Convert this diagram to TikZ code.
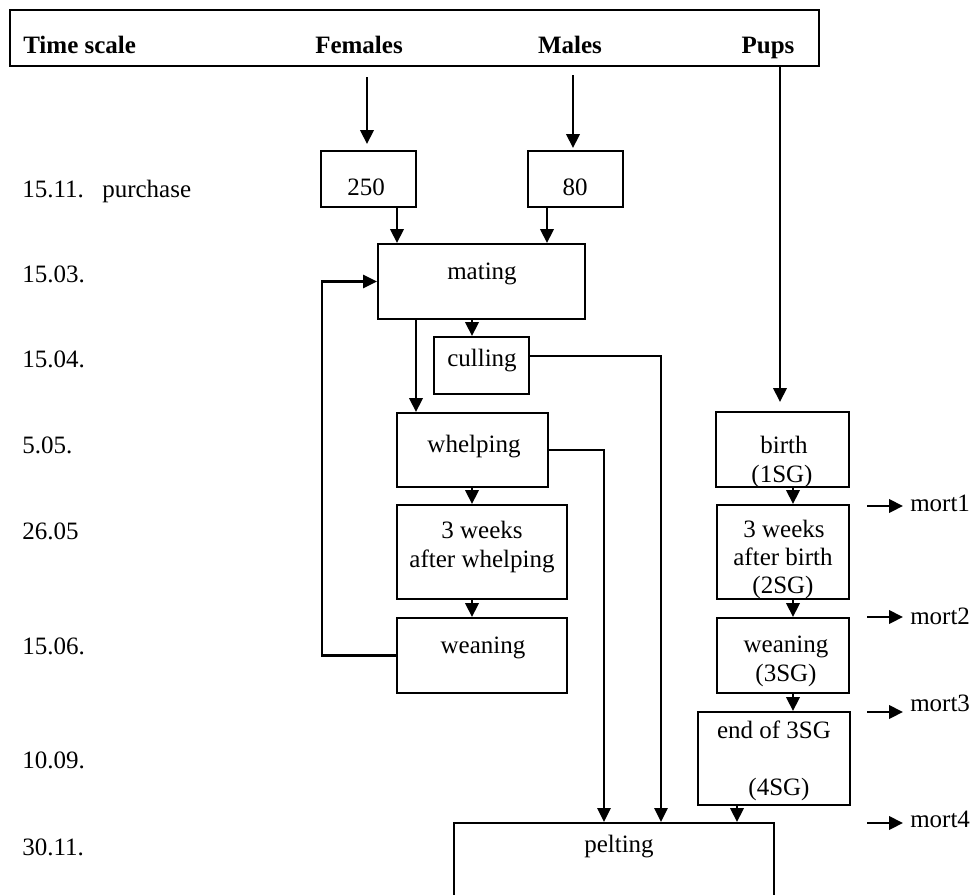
\documentclass[tikz,border=0pt]{standalone}
\usepackage{fontspec}
\setmainfont{Liberation Serif}
\usetikzlibrary{arrows.meta,calc,fit}
\begin{document}
\begin{tikzpicture}[x=0.75pt,y=-0.75pt,
  box/.style={draw,line width=1.5pt,inner sep=0pt,rectangle},
  txt/.style={inner sep=0pt,anchor=base,font=\fontsize{18.75}{22}\selectfont},
  ltxt/.style={txt,anchor=base west},
  hdr/.style={txt,font=\fontsize{18.75}{22}\selectfont\bfseries},
  arr/.style={line width=2.2pt,-{Triangle[length=10.5pt,width=10pt]}},
  thinarr/.style={line width=1.6pt,-{Triangle[length=10.5pt,width=10pt]}},
]
\useasboundingbox (0,0) rectangle (972,894);

% column / row helper coordinates
\coordinate (c367) at (367,0);
\coordinate (c573) at (573,0);
\coordinate (c780) at (780,0);
\coordinate (c397) at (397,0);
\coordinate (c547) at (547,0);
\coordinate (c472) at (472,0);
\coordinate (c416) at (416,0);
\coordinate (c793) at (793,0);
\coordinate (c737) at (737,0);
\coordinate (c322) at (322,0);
\coordinate (c661) at (661,0);
\coordinate (c604) at (604,0);
\coordinate (r356) at (0,356);

% boxes
\node[box,fit={(10,10) (819,66)}] (header) {};
\node[box,fit={(321,151) (416,207)}] (b250) {};
\node[box,fit={(528,151) (623,207)}] (b80) {};
\node[box,fit={(378,244) (585,319)}] (mating) {};
\node[box,fit={(434,337) (529,394)}] (culling) {};
\node[box,fit={(397,413) (548,487)}] (whelping) {};
\node[box,fit={(397,505) (567,599)}] (weeksF) {};
\node[box,fit={(397,618) (567,693)}] (weanF) {};
\node[box,fit={(716,412) (849,487)}] (birth) {};
\node[box,fit={(717,505) (849,599)}] (weeksP) {};
\node[box,fit={(717,618) (849,693)}] (weanP) {};
\node[box,fit={(698,712) (850,805)}] (endbox) {};
\node[box,fit={(454,823) (774,912)}] (pelting) {};

% header texts
\node[hdr,anchor=base west] (tscale) at (23,53) {Time scale};
\node[hdr] (females) at (359,53) {Females};
\node[hdr] (males) at (570,53) {Males};
\node[hdr] (pups) at (768,53) {Pups};

% time scale
\node[ltxt] (d1) at (22,197) {15.11.};
\node[ltxt] (purch) at (102,197) {purchase};
\node[ltxt] (d2) at (22,282) {15.03.};
\node[ltxt] (d3) at (22,367) {15.04.};
\node[ltxt] (d4) at (22,453) {5.05.};
\node[ltxt] (d5) at (22,539) {26.05};
\node[ltxt] (d6) at (22,654) {15.06.};
\node[ltxt] (d7) at (22,768) {10.09.};
\node[ltxt] (d8) at (22,855) {30.11.};

% box texts
\node[txt] (t250) at (366,195) {250};
\node[txt] (t80) at (575,195) {80};
\node[txt] (tmating) at (482,279) {mating};
\node[txt] (tculling) at (482,366) {culling};
\node[txt] (twhelp) at (474,452) {whelping};
\node[txt] (twF1) at (482,538) {3 weeks};
\node[txt] (twF2) at (482,567) {after whelping};
\node[txt] (tweanF) at (483,653) {weaning};
\node[txt] (tb1) at (784,453) {birth};
\node[txt] (tb2) at (782,482) {(1SG)};
\node[txt] (twP1) at (784,537) {3 weeks};
\node[txt] (twP2) at (783,565) {after birth};
\node[txt] (twP3) at (783,593) {(2SG)};
\node[txt] (tweanP1) at (786,652) {weaning};
\node[txt] (tweanP2) at (786,681) {(3SG)};
\node[txt] (tend1) at (774,738) {end of 3SG};
\node[txt] (tend2) at (779,795) {(4SG)};
\node[txt] (tpelt) at (619,852) {pelting};

% mortality labels
\node[ltxt] (mort1) at (910,511) {mort1};
\node[ltxt] (mort2) at (910,624) {mort2};
\node[ltxt] (mort3) at (910,711) {mort3};
\node[ltxt] (mort4) at (910,827) {mort4};
\coordinate (m1) at (867,506);
\coordinate (m2) at (867,617);
\coordinate (m3) at (867,712);
\coordinate (m4) at (867,823);

% start points below header
\coordinate (femS) at (367,77);
\coordinate (malS) at (573,75);
\coordinate (pupS) at (780,66);

% arrows from header
\draw[arr,shorten >=4.5pt] (femS) -- (b250.north -| femS);
\draw[arr,shorten >=1.5pt] (malS) -- (b80.north -| malS);
\draw[thinarr,line width=2pt,shorten >=6.75pt] (pupS) -- (birth.north -| pupS);

% females / males flow
\draw[arr] (b250.south -| c397) -- (mating.north -| c397);
\draw[arr] (b80.south -| c547) -- (mating.north -| c547);
\draw[arr] (mating.south -| c472) -- (culling.north -| c472);
\draw[arr] (mating.south -| c416) -- (whelping.north -| c416);
\draw[arr] (whelping.south -| c472) -- (weeksF.north -| c472);
\draw[arr] (weeksF.south -| c472) -- (weanF.north -| c472);
\draw[thinarr] (weanF.west) -- (weanF.west -| c322) |- (mating.west);
\draw[thinarr] (culling.east |- r356) -| (pelting.north -| c661);
\draw[thinarr] (whelping.east) -| (pelting.north -| c604);

% pups flow
\draw[arr] (birth.south -| c793) -- (weeksP.north -| c793);
\draw[arr] (weeksP.south -| c793) -- (weanP.north -| c793);
\draw[arr] (weanP.south -| c793) -- (endbox.north -| c793);
\draw[arr] (endbox.south -| c737) -- (pelting.north -| c737);

% mortality arrows
\draw[arr,shorten >=5.25pt] (m1) -- (m1 -| mort1.west);
\draw[arr,shorten >=5.25pt] (m2) -- (m2 -| mort2.west);
\draw[arr,shorten >=5.25pt] (m3) -- (m3 -| mort3.west);
\draw[arr,shorten >=5.25pt] (m4) -- (m4 -| mort4.west);
\end{tikzpicture}
\end{document}
